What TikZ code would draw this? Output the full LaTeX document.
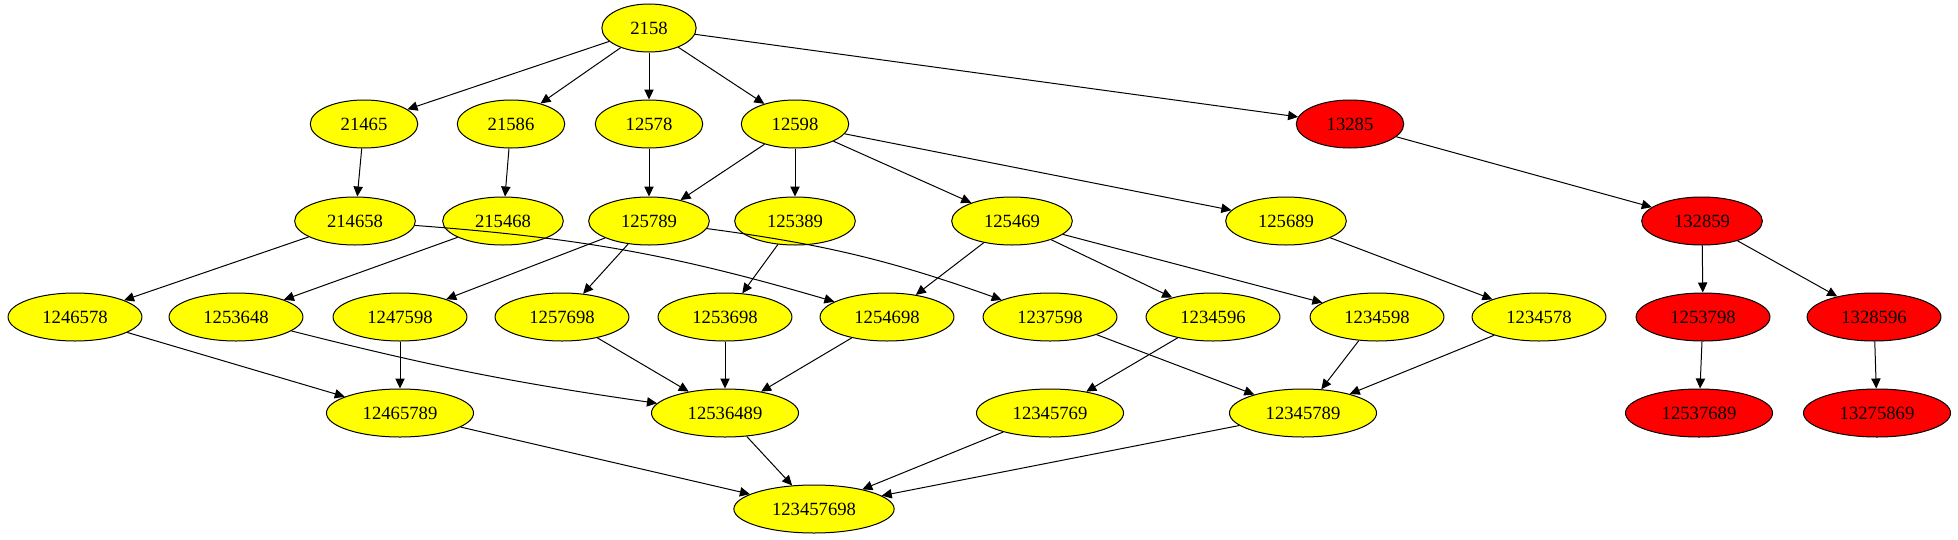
\documentclass[tikz,border=0pt]{standalone}
\usepackage{fontspec}
\setmainfont{Liberation Serif}
\usetikzlibrary{shapes.geometric, arrows.meta}
\definecolor{nodeyellow}{RGB}{255,255,0}
\definecolor{nodered}{RGB}{255,0,0}

\begin{document}
\begin{tikzpicture}[x=0.75pt, y=-0.75pt, >={Triangle[length=7.5pt, width=7pt]},
    num/.style={draw, line width=0.75pt, ellipse, fill=nodeyellow, font=\fontsize{14}{16}\selectfont, minimum height=36pt, inner xsep=11pt, inner ysep=0pt},
    hit/.style={num, fill=nodered},
    link/.style={->, line width=0.75pt}
]
\useasboundingbox (0,0) rectangle (1958,539);

% Nodes
\node[num] (n2158) at (649,28) {2158};

\node[num] (n21465) at (364,124) {21465};
\node[num] (n21586) at (511,124) {21586};
\node[num] (n12578) at (649,124) {12578};
\node[num] (n12598) at (795,124) {12598};
\node[hit] (n13285) at (1350,124) {13285};

\node[num] (n214658) at (355,221) {214658};
\node[num] (n215468) at (503,221) {215468};
\node[num] (n125789) at (649,221) {125789};
\node[num] (n125389) at (795,221) {125389};
\node[num] (n125469) at (1012,221) {125469};
\node[num] (n125689) at (1286,221) {125689};
\node[hit] (n132859) at (1702,221) {132859};

\node[num] (n1246578) at (75,317) {1246578};
\node[num] (n1253648) at (236,317) {1253648};
\node[num] (n1247598) at (400,317) {1247598};
\node[num] (n1257698) at (562,317) {1257698};
\node[num] (n1253698) at (725,317) {1253698};
\node[num] (n1254698) at (887,317) {1254698};
\node[num] (n1237598) at (1050,317) {1237598};
\node[num] (n1234596) at (1213,317) {1234596};
\node[num] (n1234598) at (1377,317) {1234598};
\node[num] (n1234578) at (1539,317) {1234578};
\node[hit] (n1253798) at (1703,317) {1253798};
\node[hit] (n1328596) at (1874,317) {1328596};

\node[num] (n12465789) at (400,413) {12465789};
\node[num] (n12536489) at (725,413) {12536489};
\node[num] (n12345769) at (1050,413) {12345769};
\node[num] (n12345789) at (1303,413) {12345789};
\node[hit] (n12537689) at (1699,413) {12537689};
\node[hit] (n13275869) at (1877,413) {13275869};

\node[num] (n123457698) at (814,509) {123457698};

% Connections
\draw[link] (n2158) -- (n21465);
\draw[link] (n2158) -- (n21586);
\draw[link] (n2158) -- (n12578);
\draw[link] (n2158) -- (n12598);
\draw[link] (n2158) -- (n13285);

\draw[link] (n21465) -- (n214658);
\draw[link] (n21586) -- (n215468);
\draw[link] (n12578) -- (n125789);
\draw[link] (n12598) -- (n125789);
\draw[link] (n12598) -- (n125389);
\draw[link] (n12598) -- (n125469);
\draw[link] (n12598) -- (n125689);
\draw[link] (n13285) -- (n132859);

\draw[link] (n214658) -- (n1246578);
\draw[link] (n214658) to[bend left=6] (n1254698);
\draw[link] (n215468) -- (n1253648);
\draw[link] (n125789) -- (n1247598);
\draw[link] (n125789) -- (n1257698);
\draw[link] (n125789) to[bend left=6] (n1237598);
\draw[link] (n125389) -- (n1253698);
\draw[link] (n125469) -- (n1254698);
\draw[link] (n125469) -- (n1234596);
\draw[link] (n125469) -- (n1234598);
\draw[link] (n125689) -- (n1234578);
\draw[link] (n132859) -- (n1253798);
\draw[link] (n132859) -- (n1328596);

\draw[link] (n1246578) -- (n12465789);
\draw[link] (n1253648) to[bend right=3] (n12536489);
\draw[link] (n1247598) -- (n12465789);
\draw[link] (n1257698) -- (n12536489);
\draw[link] (n1253698) -- (n12536489);
\draw[link] (n1254698) -- (n12536489);
\draw[link] (n1237598) -- (n12345789);
\draw[link] (n1234596) -- (n12345769);
\draw[link] (n1234598) -- (n12345789);
\draw[link] (n1234578) -- (n12345789);
\draw[link] (n1253798) -- (n12537689);
\draw[link] (n1328596) -- (n13275869);

\draw[link] (n12465789) -- (n123457698);
\draw[link] (n12536489) -- (n123457698);
\draw[link] (n12345769) -- (n123457698);
\draw[link] (n12345789) -- (n123457698);

\end{tikzpicture}
\end{document}
